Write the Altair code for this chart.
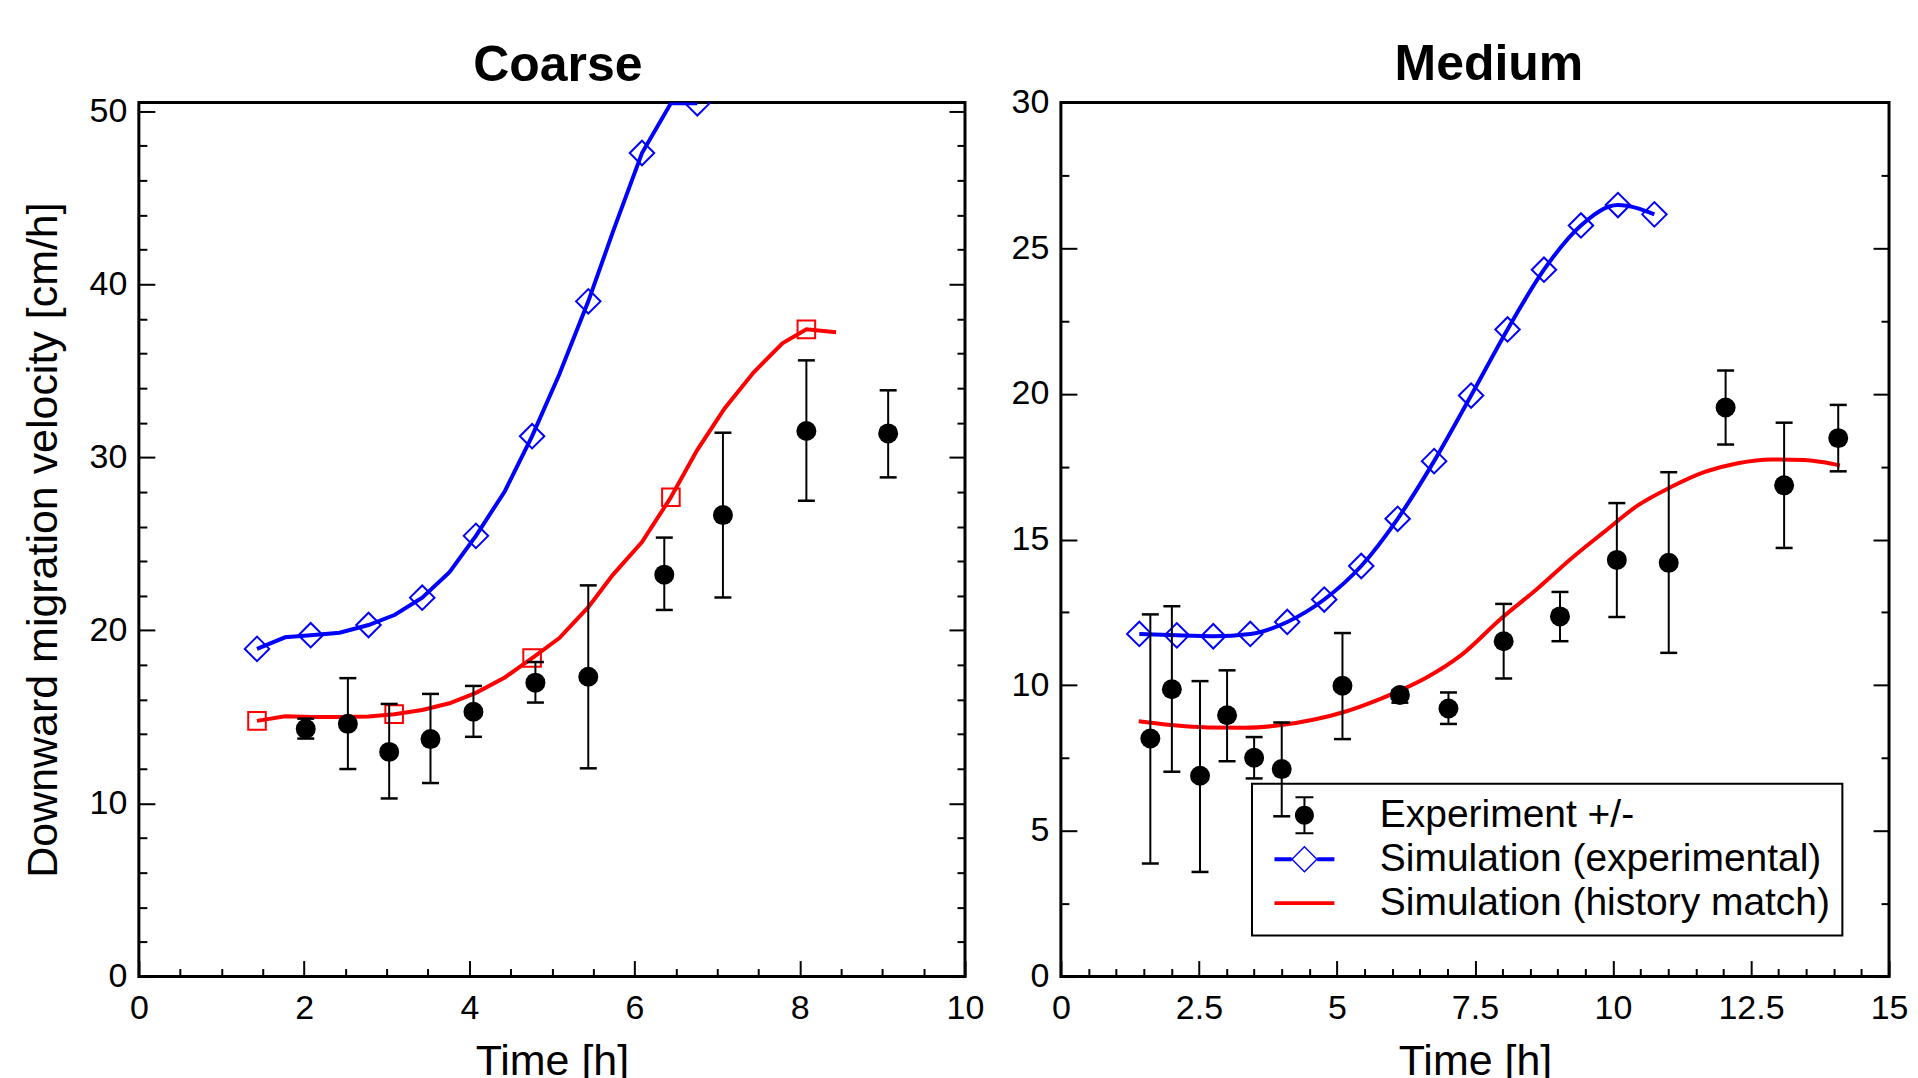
import altair as alt
import pandas as pd

# ---------------- data ----------------
# Coarse panel
coarse_blue_t = [1.43, 1.77, 2.08, 2.43, 2.78, 3.10, 3.43, 3.76, 4.08, 4.43, 4.76, 5.09, 5.44, 5.74, 6.09, 6.44, 6.76]
coarse_blue_v = [18.93, 19.60, 19.72, 19.86, 20.31, 20.90, 21.89, 23.36, 25.46, 28.04, 31.22, 34.80, 39.01, 43.05, 47.58, 50.45, 50.45]
coarse_diamond_t = [1.43, 2.08, 2.78, 3.43, 4.08, 4.76, 5.44, 6.09, 6.76]
coarse_diamond_v = [18.93, 19.72, 20.31, 21.89, 25.46, 31.22, 39.01, 47.58, 50.45]

coarse_red_t = [1.43, 1.77, 2.10, 2.43, 2.78, 3.09, 3.43, 3.76, 4.08, 4.43, 4.76, 5.09, 5.44, 5.74, 6.09, 6.44, 6.76, 7.09, 7.44, 7.79, 8.08, 8.44]
coarse_red_v = [14.77, 15.04, 15.00, 15.00, 15.02, 15.16, 15.40, 15.79, 16.39, 17.28, 18.40, 19.56, 21.34, 23.22, 25.10, 27.69, 30.43, 32.82, 34.90, 36.59, 37.39, 37.22]
coarse_square_t = [1.43, 3.09, 4.76, 6.44, 8.08]
coarse_square_v = [14.77, 15.16, 18.40, 27.69, 37.39]

coarse_exp_t = [2.02, 2.53, 3.03, 3.53, 4.05, 4.80, 5.44, 6.36, 7.07, 8.08, 9.07]
coarse_exp_v = [14.31, 14.60, 12.98, 13.72, 15.30, 16.98, 17.32, 23.22, 26.66, 31.52, 31.38]
coarse_exp_lo = [13.75, 11.99, 10.29, 11.18, 13.85, 15.83, 12.03, 21.18, 21.90, 27.49, 28.84]
coarse_exp_hi = [14.90, 17.24, 15.75, 16.33, 16.79, 18.17, 22.60, 25.36, 31.42, 35.60, 33.87]

# Medium panel
medium_blue_t = [1.42, 2.10, 2.76, 3.43, 4.10, 4.77, 5.44, 6.10, 6.76, 7.43, 8.09, 8.75, 9.42, 10.09, 10.75]
medium_blue_v = [11.76, 11.71, 11.68, 11.76, 12.17, 12.94, 14.09, 15.71, 17.69, 19.94, 22.21, 24.26, 25.78, 26.48, 26.16]

medium_red_t = [1.41, 2.00, 2.66, 3.32, 3.99, 4.59, 5.13, 5.80, 6.16, 6.64, 7.25, 7.97, 8.63, 9.24, 9.84, 10.45, 11.05, 11.65, 12.26, 12.86, 13.46, 13.82, 14.11]
medium_red_v = [8.76, 8.63, 8.55, 8.54, 8.63, 8.82, 9.08, 9.54, 9.83, 10.28, 11.03, 12.28, 13.31, 14.34, 15.26, 16.17, 16.80, 17.31, 17.62, 17.75, 17.73, 17.65, 17.54]

medium_exp_t = [1.62, 2.01, 2.52, 3.01, 3.50, 4.00, 5.10, 6.14, 7.02, 8.02, 9.04, 10.07, 11.01, 12.04, 13.10, 14.08]
medium_exp_v = [8.17, 9.86, 6.89, 8.97, 7.51, 7.12, 9.98, 9.66, 9.20, 11.51, 12.36, 14.30, 14.20, 19.53, 16.86, 18.48]
medium_exp_lo = [3.88, 7.03, 3.59, 7.39, 6.80, 5.50, 8.15, 9.40, 8.67, 10.23, 11.51, 12.34, 11.11, 18.26, 14.71, 17.34]
medium_exp_hi = [12.43, 12.71, 10.14, 10.51, 8.22, 8.72, 11.79, 9.83, 9.75, 12.79, 13.20, 16.25, 17.31, 20.80, 19.01, 19.62]

legend_names = ["Experiment +/-", "Simulation (experimental)", "Simulation (history match)"]

# axis tick values
coarse_x_major = [0, 2, 4, 6, 8, 10]
coarse_x_minor = [0.5, 1, 1.5, 2.5, 3, 3.5, 4.5, 5, 5.5, 6.5, 7, 7.5, 8.5, 9, 9.5]
coarse_y_major = [0, 10, 20, 30, 40, 50]
coarse_y_minor = [2, 4, 6, 8, 12, 14, 16, 18, 22, 24, 26, 28, 32, 34, 36, 38, 42, 44, 46, 48]
medium_x_major = [0, 2.5, 5, 7.5, 10, 12.5, 15]
medium_x_minor = [0.5, 1, 1.5, 2, 3, 3.5, 4, 4.5, 5.5, 6, 6.5, 7, 8, 8.5, 9, 9.5, 10.5, 11, 11.5, 12, 13, 13.5, 14, 14.5]
medium_y_major = [0, 5, 10, 15, 20, 25, 30]
medium_y_minor = [2.5, 7.5, 12.5, 17.5, 22.5, 27.5]

# ---------------- styling ----------------
FONT = "Liberation Sans"
BLUE = "#0000ff"
RED = "#ff0000"
TICK_FS = 34
TITLE_FS = 43


def label_axis_x(vals, fmt):
    return alt.Axis(orient="bottom", values=vals, format=fmt, ticks=False, tickSize=0, domain=False,
                    grid=False, labelFont=FONT, labelFontSize=TICK_FS, labelColor="black",
                    labelPadding=15, labelFlush=False, labelOverlap=False,
                    title="Time [h]", titleFont=FONT, titleFontSize=TITLE_FS,
                    titleFontWeight="normal", titleColor="black", titlePadding=15)


def label_axis_y(vals, fmt, title):
    kw = dict(orient="left", values=vals, format=fmt, ticks=False, tickSize=0, domain=False,
              grid=False, labelFont=FONT, labelFontSize=TICK_FS, labelColor="black",
              labelPadding=12, labelOverlap=False, labelFlush=False)
    if title:
        kw.update(title=title, titleFont=FONT, titleFontSize=TITLE_FS, titleFontWeight="normal",
                  titleColor="black", titlePadding=24)
    else:
        kw.update(title=None)
    return alt.Axis(**kw)


def tick_axis(orient, vals, size):
    return alt.Axis(orient=orient, values=vals, labels=False, domain=False, grid=False, ticks=True,
                    tickSize=size, tickWidth=2, tickColor="black", offset=-size, title=None)


def make_panel(title, title_offset, title_dx, width, xdom, ydom, xmaj, xmin, ymaj, ymin, fmt, ytitle,
               blue_t, blue_v, dia_t, dia_v, red_t, red_v, exp_t, exp_v, exp_lo, exp_hi,
               sq_t=None, sq_v=None, interp="linear", legend=False):
    xsc = alt.Scale(domain=xdom, nice=False, zero=False)
    ysc = alt.Scale(domain=ydom, nice=False, zero=False)

    red_df = pd.DataFrame({"t": red_t, "v": red_v})
    blue_df = pd.DataFrame({"t": blue_t, "v": blue_v})
    dia_df = pd.DataFrame({"t": dia_t, "v": dia_v})
    exp_df = pd.DataFrame({"t": exp_t, "v": exp_v, "lo": exp_lo, "hi": exp_hi})

    layers = []
    layers.append(alt.Chart(red_df).mark_line(color=RED, strokeWidth=4, clip=True, interpolate=interp).encode(
        x=alt.X("t:Q", scale=xsc, axis=label_axis_x(xmaj, fmt)),
        y=alt.Y("v:Q", scale=ysc, axis=label_axis_y(ymaj, fmt, ytitle))))
    layers.append(alt.Chart(blue_df).mark_line(color=BLUE, strokeWidth=4, clip=True, interpolate=interp).encode(
        x=alt.X("t:Q", scale=xsc, axis=tick_axis("bottom", xmaj, 16)),
        y=alt.Y("v:Q", scale=ysc, axis=tick_axis("left", ymaj, 16))))
    layers.append(alt.Chart(dia_df).mark_point(shape="diamond", filled=False, size=600, strokeWidth=2,
                                               color=BLUE, opacity=1, clip=True).encode(
        x=alt.X("t:Q", scale=xsc, axis=tick_axis("bottom", xmin, 8)),
        y=alt.Y("v:Q", scale=ysc, axis=tick_axis("left", ymin, 8))))
    if sq_t is not None:
        sq_df = pd.DataFrame({"t": sq_t, "v": sq_v})
        layers.append(alt.Chart(sq_df).mark_point(shape="square", filled=False, size=310, strokeWidth=2,
                                                  color=RED, opacity=1, clip=True).encode(
            x=alt.X("t:Q", scale=xsc, axis=None),
            y=alt.Y("v:Q", scale=ysc, axis=None)))
    layers.append(alt.Chart(exp_df).mark_rule(color="black", strokeWidth=2).encode(
        x=alt.X("t:Q", scale=xsc, axis=None),
        y=alt.Y("lo:Q", scale=ysc, axis=tick_axis("right", ymaj, 16)),
        y2="hi:Q"))
    layers.append(alt.Chart(exp_df).mark_tick(orient="horizontal", size=17, thickness=2.5,
                                              color="black", opacity=1).encode(
        x=alt.X("t:Q", scale=xsc, axis=None),
        y=alt.Y("lo:Q", scale=ysc, axis=tick_axis("right", ymin, 8))))
    layers.append(alt.Chart(exp_df).mark_tick(orient="horizontal", size=17, thickness=2.5,
                                              color="black", opacity=1).encode(
        x=alt.X("t:Q", scale=xsc, axis=None),
        y=alt.Y("hi:Q", scale=ysc, axis=None)))
    layers.append(alt.Chart(exp_df).mark_point(shape="circle", filled=True, size=400,
                                               color="black", opacity=1).encode(
        x=alt.X("t:Q", scale=xsc, axis=None),
        y=alt.Y("v:Q", scale=ysc, axis=None)))

    if legend:
        u = 15.0  # px per path unit (sqrt(900)/2)
        cx = 21.0 / u

        def f(v):
            return f"{v:.3f}"

        def rect(x0, x1, y0, y1):
            return f"M{f(x0)},{f(y0)}H{f(x1)}V{f(y1)}H{f(x0)}Z"

        r = 9.5 / u
        bw = 1.0 / u
        cap = 9.0 / u
        eb = 18.0 / u
        p_exp = (rect(cx - bw, cx + bw, -eb, eb) + rect(cx - cap, cx + cap, -eb - bw, -eb + bw)
                 + rect(cx - cap, cx + cap, eb - bw, eb + bw)
                 + f"M{f(cx + r)},0A{f(r)},{f(r)},0,1,1,{f(cx - r)},0A{f(r)},{f(r)},0,1,1,{f(cx + r)},0Z")
        lw = 2.0 / u
        do, di = 13.5 / u, 11.5 / u
        p_blue = (rect(cx - 2, cx - do + 0.05, -lw, lw) + rect(cx + do - 0.05, cx + 2, -lw, lw)
                  + f"M{f(cx - do)},0L{f(cx)},{f(-do)}L{f(cx + do)},0L{f(cx)},{f(do)}Z"
                  + f"M{f(cx - di)},0L{f(cx)},{f(di)}L{f(cx + di)},0L{f(cx)},{f(-di)}Z")
        p_red = rect(cx - 2, cx + 2, -lw, lw)

        leg = alt.Legend(title=None, orient="none", legendX=191.3, legendY=682, padding=12,
                         rowPadding=4, labelFont=FONT, labelFontSize=39, labelColor="black",
                         labelOffset=77, labelLimit=800, symbolSize=900, symbolStrokeWidth=0,
                         strokeColor="black")
        leg_df = pd.DataFrame({"series": legend_names})
        layers.append(alt.Chart(leg_df).mark_point(filled=True, opacity=1).encode(
            shape=alt.Shape("series:N", scale=alt.Scale(domain=legend_names, range=[p_exp, p_blue, p_red]),
                            legend=leg),
            color=alt.Color("series:N", scale=alt.Scale(domain=legend_names, range=["black", BLUE, RED]),
                            legend=leg),
        ).transform_filter("false"))

    return alt.layer(*layers).resolve_axis(x="independent", y="independent").properties(
        width=width, height=875,
        title=alt.TitleParams(title, font=FONT, fontSize=50, fontWeight="bold", color="black",
                              anchor="middle", baseline="alphabetic", frame="group",
                              offset=title_offset, dx=title_dx))


left = make_panel("Coarse", -36.4, 6, 827, [0, 10], [0, 50.5], coarse_x_major, coarse_x_minor,
                  coarse_y_major, coarse_y_minor, "d", "Downward migration velocity [cm/h]",
                  coarse_blue_t, coarse_blue_v, coarse_diamond_t, coarse_diamond_v,
                  coarse_red_t, coarse_red_v, coarse_exp_t, coarse_exp_v, coarse_exp_lo, coarse_exp_hi,
                  sq_t=coarse_square_t, sq_v=coarse_square_v)
right = make_panel("Medium", -44.1, 14, 829, [0, 15], [0, 30], medium_x_major, medium_x_minor,
                   medium_y_major, medium_y_minor, ".3~r", None,
                   medium_blue_t, medium_blue_v, medium_blue_t, medium_blue_v,
                   medium_red_t, medium_red_v, medium_exp_t, medium_exp_v, medium_exp_lo, medium_exp_hi,
                   interp="monotone", legend=True)

chart = alt.hconcat(left, right, spacing=96, bounds="flush").resolve_scale(
    color="independent", shape="independent"
).properties(
    padding={"left": 12, "top": 29, "right": 0, "bottom": 0},
    background="white",
).configure_view(stroke="black", strokeWidth=3).configure_legend(strokeWidth=2)

chart.save("out.html", embed_options={"renderer": "svg", "actions": False})
